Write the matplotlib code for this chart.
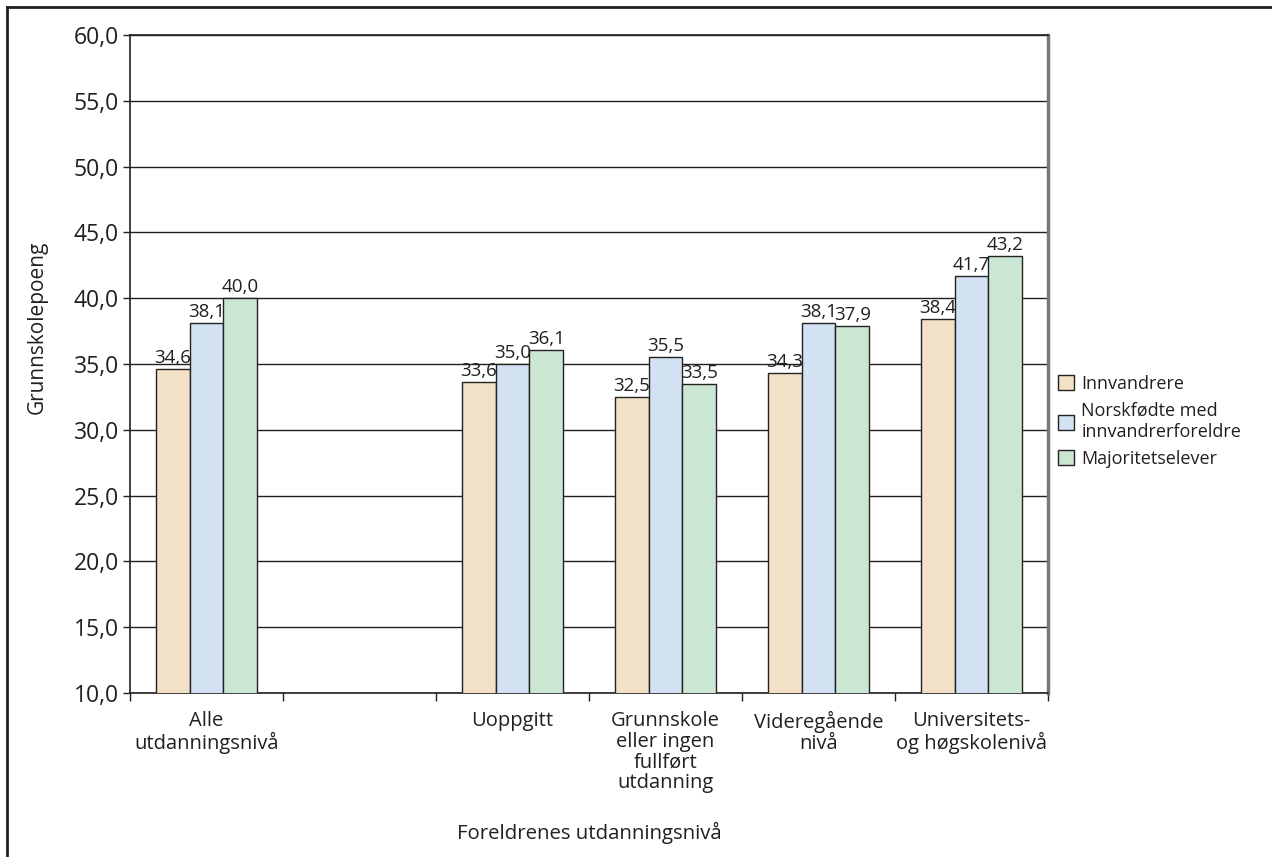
import numpy as np
import matplotlib.pyplot as plt
from matplotlib.patches import Patch
from matplotlib.lines import Line2D

plt.rcParams['font.family'] = ['Open Sans', 'DejaVu Sans']

categories = ["Alle\nutdanningsnivå", "", "Uoppgitt",
              "Grunnskole\neller ingen\nfullført\nutdanning",
              "Videregående\nnivå", "Universitets-\nog høgskolenivå"]
innvandrere = [34.6, np.nan, 33.6, 32.5, 34.3, 38.4]
norskfodte = [38.1, np.nan, 35.0, 35.5, 38.1, 41.7]
majoritet = [40.0, np.nan, 36.1, 33.5, 37.9, 43.2]
series_names = ["Innvandrere", "Norskfødte med\ninnvandrerforeldre", "Majoritetselever"]
colors = ["#f2e1c7", "#d2e2f2", "#cce6d4"]

fig = plt.figure(figsize=(12.72, 8.57), dpi=100)
ax = fig.add_axes([130/1272, 1 - 693/857, 918/1272, 658/857])

x = np.arange(len(categories))
w = 0.222
for i, (vals, name, c) in enumerate(zip([innvandrere, norskfodte, majoritet], series_names, colors)):
    pos = x + (i - 1) * w
    ax.bar(pos, vals, width=w, color=c, edgecolor="#222222", linewidth=1.0, zorder=3, label=name)
    for p, v in zip(pos, vals):
        if not np.isnan(v):
            ax.text(p, v + 0.15, f"{v:.1f}".replace(".", ","), ha="center", va="bottom",
                    fontsize=13.5, color="#231f20", zorder=4)

ax.set_ylim(10, 60)
ax.set_xlim(-0.5, len(categories) - 0.5)
ax.set_yticks(np.arange(10, 61, 5))
ax.set_yticklabels([f"{t:.1f}".replace(".", ",") for t in np.arange(10, 61, 5)], fontsize=16.5, color="#231f20")
ax.yaxis.grid(True, color="#231f20", linewidth=1.0, zorder=0)
ax.tick_params(axis="y", length=5, width=1, color="#231f20", pad=3)

# category labels centred under slots, ticks at the slot boundaries
ax.set_xticks(np.arange(-0.5, len(categories), 1.0))
ax.set_xticklabels([])
ax.tick_params(axis="x", length=6, width=1, color="#231f20")
ax.set_xticks(x, minor=True)
ax.set_xticklabels(categories, minor=True, fontsize=14.5, color="#231f20", linespacing=1.05)
ax.tick_params(axis="x", which="minor", length=0, pad=13)

for s in ["left", "bottom", "top"]:
    ax.spines[s].set_color("#231f20")
    ax.spines[s].set_linewidth(1.2)
ax.spines["right"].set_color("#777777")
ax.spines["right"].set_linewidth(2.5)

ax.set_ylabel("Grunnskolepoeng", fontsize=15, color="#231f20")
ax.yaxis.set_label_coords(-82/918, 0.556)
fig.text(589/1272, 1 - 833/857, "Foreldrenes utdanningsnivå", fontsize=14.7,
         ha="center", va="center", color="#231f20")

handles = [Patch(facecolor=c, edgecolor="#222222", linewidth=1.0) for c in colors]
fig.legend(handles, series_names, loc="upper left", bbox_to_anchor=(1058/1272, 1 - 375/857),
           frameon=False, fontsize=13, handlelength=0.9, handleheight=0.9,
           handletextpad=0.4, labelspacing=0.5, borderaxespad=0, borderpad=0,
           labelcolor="#231f20")

# outer frame (left and top edges)
fig.add_artist(Line2D([7/1272, 7/1272], [0, 1 - 7/857], transform=fig.transFigure, color="#231f20", linewidth=2))
fig.add_artist(Line2D([7/1272, 1], [1 - 7/857, 1 - 7/857], transform=fig.transFigure, color="#231f20", linewidth=2))

fig.savefig("out.png", dpi=100)
